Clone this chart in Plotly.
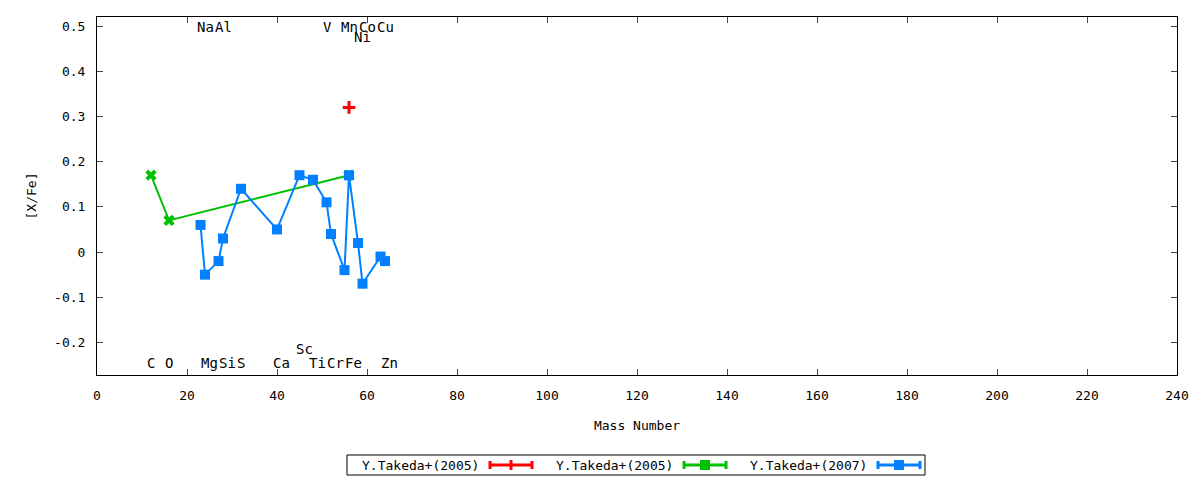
import plotly.graph_objects as go

# abundance data [X/Fe] vs mass number
red_mass = [56]
red_val = [0.32]

green_mass = [12, 16, 56]
green_val = [0.17, 0.07, 0.17]

blue_mass = [23, 24, 27, 28, 32, 40, 45, 48, 51, 52, 55, 56, 58, 59, 63, 64]
blue_val = [0.06, -0.05, -0.02, 0.03, 0.14, 0.05, 0.17, 0.16, 0.11, 0.04,
            -0.04, 0.17, 0.02, -0.07, -0.01, -0.02]

# element labels
elem_names = ["C", "O", "Na", "Mg", "Al", "Si", "S", "Ca", "Sc", "Ti", "V",
              "Cr", "Mn", "Fe", "Ni", "Co", "Cu", "Zn"]
elem_mass = [12, 16, 23, 24, 27, 28, 32, 40, 45, 48, 51, 52, 55, 56, 58, 59, 63, 64]
elem_y = [-0.246, -0.246, 0.498, -0.246, 0.498, -0.246, -0.246, -0.246, -0.215,
          -0.246, 0.498, -0.246, 0.498, -0.246, 0.476, 0.498, 0.498, -0.246]

legend_names = ["Y.Takeda+(2005)", "Y.Takeda+(2005)", "Y.Takeda+(2007)"]
colors = ["#ff0000", "#00c000", "#0080ff"]

x_ticks = list(range(0, 241, 20))
y_ticks = [-0.2, -0.1, 0, 0.1, 0.2, 0.3, 0.4, 0.5]
y_tick_text = ["-0.2", "-0.1", "0", "0.1", "0.2", "0.3", "0.4", "0.5"]

FONT = "DejaVu Sans Mono"
OFF = 8  # page body margin
W, H = 1200 - OFF, 480 - OFF
L, R, T, B = 97 - OFF, 23, 17 - OFF, 105


def px(x):
    return (x - OFF - L) / (W - L - R)


def py(y):
    return (H - B - (y - OFF)) / (H - T - B)


fig = go.Figure()
fig.add_trace(go.Scatter(x=red_mass, y=red_val, mode="lines+markers",
                         line=dict(color=colors[0], width=2),
                         marker=dict(symbol="cross-thin", size=9,
                                     line=dict(color=colors[0], width=3))))
fig.add_trace(go.Scatter(x=green_mass, y=green_val, mode="lines+markers",
                         line=dict(color=colors[1], width=2),
                         marker=dict(symbol="x", size=10, color=colors[1])))
fig.add_trace(go.Scatter(x=blue_mass, y=blue_val, mode="lines+markers",
                         line=dict(color=colors[2], width=2),
                         marker=dict(symbol="square", size=10, color=colors[2])))

for name, m, y in zip(elem_names, elem_mass, elem_y):
    fig.add_annotation(x=m, y=y, text=name, showarrow=False, xanchor="left",
                       xshift=-6, font=dict(family=FONT, size=14, color="black"))

# custom legend (text first, then sample, like gnuplot)
shapes = [dict(type="rect", xref="paper", yref="paper",
               x0=px(347), x1=px(925), y0=py(475), y1=py(455),
               line=dict(color="black", width=1))]
ly = py(465)
for k, (name, c) in enumerate(zip(legend_names, colors)):
    tx = 481 + 194 * k
    s0, s1 = 490 + 194 * k, 532 + 194 * k
    mid = (s0 + s1) / 2
    fig.add_annotation(x=px(tx), y=ly, xref="paper", yref="paper", text=name,
                       showarrow=False, xanchor="right", yanchor="middle",
                       font=dict(family=FONT, size=13, color="black"))
    shapes.append(dict(type="line", xref="paper", yref="paper",
                       x0=px(s0), x1=px(s1), y0=ly, y1=ly,
                       line=dict(color=c, width=3)))
    for e in (s0, s1):
        shapes.append(dict(type="line", xref="paper", yref="paper",
                           x0=px(e), x1=px(e), y0=py(461), y1=py(469),
                           line=dict(color=c, width=3)))
    if k == 0:
        shapes.append(dict(type="line", xref="paper", yref="paper",
                           x0=px(mid), x1=px(mid), y0=py(460), y1=py(470),
                           line=dict(color=c, width=3)))
    else:
        shapes.append(dict(type="rect", xref="paper", yref="paper",
                           x0=px(mid - 5), x1=px(mid + 5), y0=py(470), y1=py(460),
                           fillcolor=c, line=dict(color=c, width=0)))

fig.update_layout(
    width=W, height=H,
    margin=dict(l=L, r=R, t=T, b=B),
    paper_bgcolor="white", plot_bgcolor="white",
    showlegend=False,
    font=dict(family=FONT, size=13, color="black"),
    shapes=shapes,
    xaxis=dict(range=[0, 240], tickvals=x_ticks, ticks="inside", ticklen=6,
               showline=True, linecolor="black", linewidth=1, mirror="ticks",
               showgrid=False, zeroline=False, ticklabelstandoff=8,
               tickfont=dict(size=13),
               title=dict(text="Mass Number", standoff=19, font=dict(size=13))),
    yaxis=dict(range=[-0.272, 0.52], tickvals=y_ticks, ticktext=y_tick_text,
               ticks="inside", ticklen=6, showline=True, linecolor="black",
               linewidth=1, mirror="ticks", showgrid=False, zeroline=False,
               ticklabelstandoff=8, tickfont=dict(size=13),
               title=dict(text="[X/Fe]", standoff=14, font=dict(size=13))),
)

fig.write_html("out.html")
